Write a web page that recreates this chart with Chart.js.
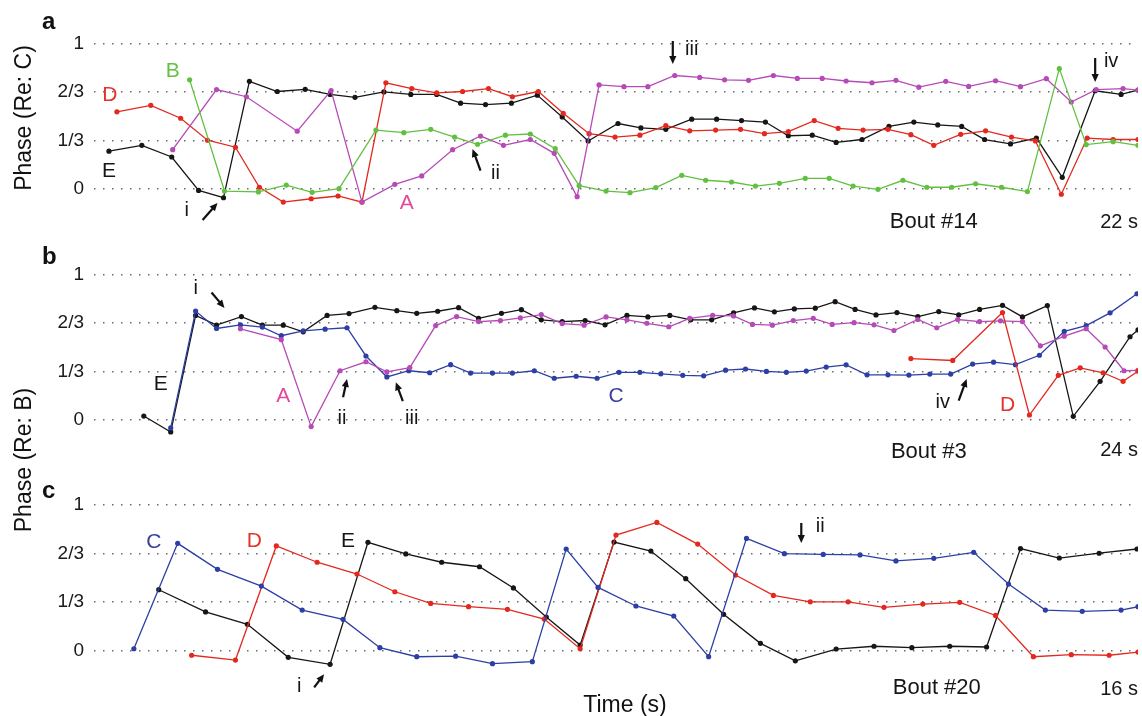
<!DOCTYPE html>
<html>
<head>
<meta charset="utf-8">
<script src="https://cdn.jsdelivr.net/npm/chart.js@4"></script>
<style>
  body { margin: 0; background: #fff; }
  #wrap { position: relative; width: 1142px; height: 716px; font-family: "Liberation Sans", Arial, sans-serif; color: #111; }
  canvas { position: absolute; left: 0; }
  .txt { position: absolute; white-space: nowrap; line-height: 1; }
  .letter { font-weight: bold; font-size: 24px; }
  .ytitle { font-size: 23px; transform: translate(-50%, -50%) rotate(-90deg); }
</style>
</head>
<body>
<div id="wrap">
  <canvas id="ca" width="1142" height="240" style="top:0"></canvas>
  <canvas id="cb" width="1142" height="230" style="top:240px"></canvas>
  <canvas id="cc" width="1142" height="246" style="top:470px"></canvas>
  <div class="txt letter" style="left:42px;top:9px">a</div>
  <div class="txt letter" style="left:42px;top:244px">b</div>
  <div class="txt letter" style="left:42px;top:478px">c</div>
  <div class="txt ytitle" style="left:23px;top:118px">Phase (Re: C)</div>
  <div class="txt ytitle" style="left:23px;top:460px">Phase (Re: B)</div>
  <div class="txt" style="left:625px;top:704px;font-size:23px;transform:translate(-50%,-50%)">Time (s)</div>
</div>
<script>
// y ticks shared by all panels
const yTicks = [0, 1/3, 2/3, 1];
const yTickLabels = ['0', '1/3', '2/3', '1'];

// time axis: position along the bout (0 .. 1048 across the plot)
// ---- panel a, bout #14, phase relative to C ----
const aE_t = [15,48,78,105,130,156,184,212,237,262,291,318,344,368,393,419,445,470,496,526,549,574,600,625,650,674,697,721,745,771,798,823,847,871,894,920,946,972,1005,1031,1048];
const aE_v = [0.26,0.30,0.22,-0.01,-0.06,0.74,0.67,0.685,0.65,0.63,0.667,0.65,0.65,0.59,0.58,0.59,0.645,0.495,0.33,0.45,0.42,0.41,0.48,0.48,0.47,0.46,0.366,0.37,0.32,0.34,0.43,0.46,0.44,0.43,0.34,0.31,0.35,0.08,0.675,0.65,0.68];
const aD_t = [23,57,87,114,142,166,190,218,245,269,293,319,344,370,396,420,446,471,497,523,548,574,598,624,649,673,697,723,747,772,797,820,843,870,895,921,945,971,997,1023,1048];
const aD_v = [0.53,0.575,0.486,0.335,0.287,0.012,-0.09,-0.067,-0.048,-0.09,0.73,0.69,0.66,0.67,0.69,0.634,0.67,0.52,0.38,0.357,0.37,0.435,0.40,0.405,0.41,0.38,0.394,0.47,0.417,0.405,0.41,0.373,0.30,0.376,0.40,0.357,0.33,-0.036,0.35,0.34,0.34];
const aB_t = [96,131,165,193,219,246,283,311,338,362,385,413,438,463,487,514,538,564,590,614,640,664,688,714,738,762,787,812,836,861,885,911,937,969,996,1023,1048];
const aB_v = [0.75,-0.014,-0.02,0.027,-0.023,0.002,0.405,0.387,0.41,0.357,0.307,0.37,0.378,0.277,0.023,-0.014,-0.025,0.01,0.094,0.06,0.048,0.02,0.039,0.073,0.073,0.02,-0.002,0.06,0.012,0.012,0.036,0.012,-0.018,0.827,0.305,0.325,0.30];
const aA_t = [79,123,153,204,238,269,302,329,360,388,411,438,462,485,507,532,556,583,608,633,657,682,706,731,755,781,805,828,855,878,905,930,956,981,1006,1033,1048];
const aA_v = [0.27,0.683,0.634,0.397,0.676,-0.09,0.032,0.09,0.27,0.364,0.30,0.34,0.245,-0.053,0.715,0.703,0.703,0.78,0.767,0.75,0.747,0.78,0.76,0.76,0.742,0.73,0.747,0.70,0.74,0.705,0.744,0.703,0.758,0.598,0.683,0.69,0.68];

// ---- panel b, bout #3, phase relative to B ----
const bE_t = [50,77,102,123,148,169,190,210,234,256,282,304,324,345,366,386,409,429,449,470,493,513,535,556,578,599,620,642,663,683,703,724,744,764,785,806,827,848,868,889,912,932,957,983,1010,1040,1048];
const bE_v = [0.025,-0.085,0.72,0.653,0.712,0.653,0.653,0.607,0.72,0.733,0.776,0.753,0.735,0.749,0.774,0.70,0.735,0.76,0.69,0.678,0.685,0.655,0.72,0.71,0.72,0.69,0.69,0.738,0.772,0.745,0.765,0.77,0.815,0.762,0.724,0.74,0.712,0.747,0.724,0.762,0.79,0.71,0.788,0.023,0.265,0.573,0.62];
const bC_t = [77,102,123,147,169,188,210,232,254,273,294,316,337,358,378,400,420,442,462,484,505,527,548,569,591,612,634,654,675,695,715,735,755,776,797,818,839,860,882,903,925,949,974,996,1020,1047];
const bC_v = [-0.057,0.75,0.63,0.655,0.64,0.58,0.614,0.625,0.635,0.44,0.295,0.338,0.324,0.38,0.322,0.322,0.322,0.338,0.286,0.30,0.286,0.327,0.327,0.317,0.306,0.303,0.342,0.35,0.333,0.327,0.336,0.363,0.379,0.31,0.31,0.308,0.315,0.315,0.384,0.397,0.38,0.445,0.61,0.65,0.738,0.87];
const bA_t = [147,188,218,247,273,294,317,343,364,386,408,428,449,470,492,514,535,555,577,598,621,642,661,681,702,722,741,763,783,803,827,846,867,889,910,932,950,974,996,1015,1034,1048];
const bA_v = [0.628,0.553,-0.048,0.338,0.40,0.33,0.36,0.65,0.712,0.678,0.685,0.703,0.726,0.664,0.653,0.71,0.69,0.666,0.642,0.70,0.72,0.717,0.658,0.653,0.685,0.70,0.658,0.67,0.655,0.616,0.692,0.635,0.692,0.678,0.683,0.678,0.51,0.577,0.628,0.502,0.338,0.34];
const bD_t = [820,862,912,939,968,990,1013,1033,1048];
const bD_v = [0.422,0.409,0.74,0.032,0.306,0.358,0.324,0.265,0.335];

// ---- panel c, bout #20, phase relative to B ----
const cC_t = [40,84,124,168,209,250,287,324,363,400,440,474,506,544,582,617,655,693,732,769,805,843,883,918,955,992,1031,1048];
const cC_v = [0.011,0.736,0.557,0.442,0.277,0.213,0.018,-0.044,-0.04,-0.092,-0.078,0.697,0.433,0.305,0.236,-0.044,0.77,0.665,0.66,0.656,0.615,0.633,0.674,0.456,0.277,0.268,0.277,0.30];
const cD_t = [98,142,183,224,264,302,338,376,415,452,488,524,565,606,644,682,719,757,793,832,869,905,943,981,1019,1048];
const cD_v = [-0.034,-0.067,0.718,0.606,0.525,0.403,0.323,0.30,0.282,0.215,0.011,0.793,0.88,0.731,0.518,0.378,0.334,0.334,0.296,0.318,0.33,0.24,-0.044,-0.03,-0.034,-0.012];
const cE_t = [65,112,154,195,237,275,313,349,387,421,454,488,522,559,594,632,669,704,745,783,821,859,896,930,969,1009,1047];
const cE_v = [0.417,0.264,0.179,-0.048,-0.096,0.743,0.663,0.606,0.575,0.429,0.229,0.036,0.745,0.683,0.493,0.248,0.048,-0.072,0.009,0.028,0.018,0.028,0.023,0.70,0.635,0.668,0.697];

const COL = { E: '#161616', D: '#e3291f', B: '#62c041', A: '#b64ab6', C: '#2d3fa4' };
const LBL = { E: '#161616', D: '#e6332a', B: '#64c242', A: '#e2499c', C: '#3b3fa0' };
const FONT = '"Liberation Sans", Arial, sans-serif';

function series(t, v, color) {
  return {
    data: t.map((x, i) => ({ x: x, y: v[i] })),
    borderColor: color,
    backgroundColor: color,
    borderWidth: 1.3,
    pointRadius: 2.6,
    pointBorderWidth: 0,
    pointBackgroundColor: color,
    tension: 0
  };
}

function drawArrow(ctx, x1, y1, x2, y2) {
  const ang = Math.atan2(y2 - y1, x2 - x1);
  const head = 8, w = 3.6;
  ctx.strokeStyle = '#111';
  ctx.fillStyle = '#111';
  ctx.lineWidth = 2.2;
  ctx.beginPath();
  ctx.moveTo(x1, y1);
  ctx.lineTo(x2 - Math.cos(ang) * head * 0.7, y2 - Math.sin(ang) * head * 0.7);
  ctx.stroke();
  ctx.beginPath();
  ctx.moveTo(x2, y2);
  ctx.lineTo(x2 - head * Math.cos(ang) + w * Math.sin(ang), y2 - head * Math.sin(ang) - w * Math.cos(ang));
  ctx.lineTo(x2 - head * Math.cos(ang) - w * Math.sin(ang), y2 - head * Math.sin(ang) + w * Math.cos(ang));
  ctx.closePath();
  ctx.fill();
}

// text and arrows placed in data coordinates
function notes(texts, arrows) {
  return {
    id: 'notes',
    afterDatasetsDraw(chart) {
      const ctx = chart.ctx, xs = chart.scales.x, ys = chart.scales.y;
      ctx.save();
      ctx.textAlign = 'center';
      ctx.textBaseline = 'middle';
      texts.forEach(t => {
        ctx.font = (t.size || 21) + 'px ' + FONT;
        ctx.fillStyle = t.color || '#161616';
        ctx.fillText(t.text, xs.getPixelForValue(t.x), ys.getPixelForValue(t.y));
      });
      arrows.forEach(a => drawArrow(ctx,
        xs.getPixelForValue(a[0]), ys.getPixelForValue(a[1]),
        xs.getPixelForValue(a[2]), ys.getPixelForValue(a[3])));
      ctx.restore();
    }
  };
}

function makeChart(id, datasets, padTop, padBottom, texts, arrows) {
  return new Chart(document.getElementById(id), {
    type: 'line',
    data: { datasets: datasets },
    options: {
      responsive: false,
      animation: false,
      devicePixelRatio: 1,
      layout: { padding: { top: padTop, bottom: padBottom, left: 0, right: 0 } },
      plugins: { legend: { display: false }, tooltip: { enabled: false } },
      scales: {
        x: { type: 'linear', min: 0, max: 1048, display: false },
        y: {
          min: -0.2, max: 1.05,
          afterFit: s => { s.width = 94; },
          afterBuildTicks: s => { s.ticks = yTicks.map(v => ({ value: v })); },
          ticks: {
            callback: (v, i) => yTickLabels[i],
            font: { family: FONT, size: 19 },
            color: '#1a1a1a',
            padding: 10
          },
          grid: { color: '#6a6a6a', lineWidth: 1.4, drawTicks: false },
          border: { display: false, dash: [1.5, 7.5] }
        }
      }
    },
    plugins: [notes(texts, arrows)]
  });
}

makeChart('ca', [
  series(aB_t, aB_v, COL.B),
  series(aA_t, aA_v, COL.A),
  series(aD_t, aD_v, COL.D),
  series(aE_t, aE_v, COL.E)
], 36.2, 21.9, [
  { text: 'D', x: 16, y: 0.646, color: LBL.D },
  { text: 'B', x: 79, y: 0.81, color: LBL.B },
  { text: 'E', x: 15, y: 0.124 },
  { text: 'A', x: 314, y: -0.096, color: LBL.A },
  { text: 'i', x: 93, y: -0.151, size: 20 },
  { text: 'ii', x: 403, y: 0.11, size: 20 },
  { text: 'iii', x: 600, y: 0.962, size: 20 },
  { text: 'iv', x: 1021, y: 0.873, size: 20 },
  { text: 'Bout #14', x: 843, y: -0.227, size: 22 },
  { text: '22 s', x: 1029, y: -0.227, size: 20 }
], [
  [109, -0.213, 124, -0.096],
  [388, 0.126, 380, 0.275],
  [581, 1.017, 581, 0.859],
  [1005, 0.90, 1005, 0.735]
]);

makeChart('cb', [
  series(bD_t, bD_v, COL.D),
  series(bA_t, bA_v, COL.A),
  series(bC_t, bC_v, COL.C),
  series(bE_t, bE_v, COL.E)
], 27.7, 19.8, [
  { text: 'E', x: 67, y: 0.247 },
  { text: 'A', x: 190, y: 0.164, color: LBL.A },
  { text: 'C', x: 524, y: 0.164, color: LBL.C },
  { text: 'D', x: 917, y: 0.103, color: LBL.D },
  { text: 'i', x: 102, y: 0.904, size: 20 },
  { text: 'ii', x: 249, y: 0.007, size: 20 },
  { text: 'iii', x: 319, y: 0.007, size: 20 },
  { text: 'iv', x: 852, y: 0.116, size: 20 },
  { text: 'Bout #3', x: 838, y: -0.226, size: 22 },
  { text: '24 s', x: 1029, y: -0.212, size: 20 }
], [
  [118, 0.879, 131, 0.772],
  [250, 0.155, 254, 0.281],
  [310, 0.128, 303, 0.258],
  [868, 0.132, 876, 0.281]
]);

makeChart('cc', [
  series(cC_t, cC_v, COL.C),
  series(cD_t, cD_v, COL.D),
  series(cE_t, cE_v, COL.E)
], 27.7, 36.6, [
  { text: 'C', x: 60, y: 0.745, color: LBL.C },
  { text: 'D', x: 161, y: 0.752, color: LBL.D },
  { text: 'E', x: 255, y: 0.752 },
  { text: 'i', x: 206, y: -0.246, size: 20 },
  { text: 'ii', x: 729, y: 0.849, size: 20 },
  { text: 'Bout #20', x: 846, y: -0.259, size: 22 },
  { text: '16 s', x: 1029, y: -0.266, size: 20 }
], [
  [221, -0.255, 231, -0.164],
  [710, 0.876, 710, 0.738]
]);
</script>
</body>
</html>
